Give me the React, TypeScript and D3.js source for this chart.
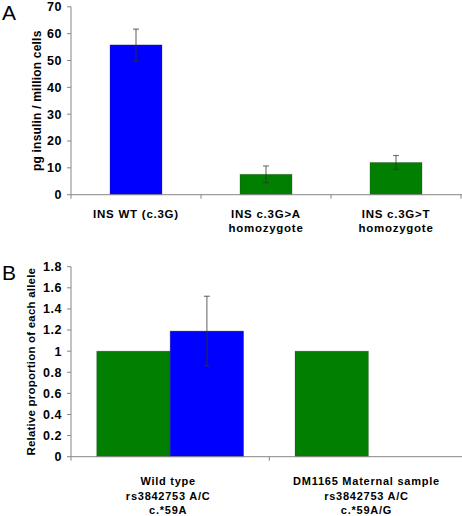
import React from "react";
import * as d3 from "d3";

const catsA = ["INS WT (c.3G)", "INS c.3G>A\nhomozygote", "INS c.3G>T\nhomozygote"];
const valuesA = [55.8, 7.6, 12.0];
const errA = [5.9, 3.1, 2.6];
const colorsA = ["#0000ff", "#007f00", "#007f00"];
const ticksA = [0, 10, 20, 30, 40, 50, 60, 70];

const catsB = ["Wild type\nrs3842753 A/C\nc.*59A", "DM1165 Maternal sample\nrs3842753 A/C\nc.*59A/G"];
const seriesGreenB = [1, 1];
const seriesBlueB = [1.19, 0];
const errBlueB = [0.33, 0];
const ticksB = [0, 0.2, 0.4, 0.6, 0.8, 1, 1.2, 1.4, 1.6, 1.8];

const FONT = "Arial, 'Liberation Sans', sans-serif";
const AXIS = "#868686";

export default function App() {
  const xA = d3.scaleBand<string>().domain(catsA).range([71, 461]).paddingInner(0).paddingOuter(0);
  const yA = d3.scaleLinear().domain([0, 70]).range([194.7, 6.8]);
  const barWA = 52;

  const xB = d3.scaleBand<string>().domain(catsB).range([71, 467.6]);
  const yB = d3.scaleLinear().domain([0, 1.8]).range([456.7, 266.7]);
  const subB = d3.scaleBand<string>().domain(["g", "b"]).range([0, xB.bandwidth()]).paddingInner(0).paddingOuter(0.35);

  const tickLabel = (v: number, y: number, fmt: (n: number) => string) => (
    <g key={v}>
      <line x1={67} x2={71} y1={y} y2={y} stroke={AXIS} />
      <text x={62} y={y} dy="0.35em" textAnchor="end" fontSize={12.5} letterSpacing={0.5} fontWeight="bold" fontFamily={FONT} fill="#000">
        {fmt(v)}
      </text>
    </g>
  );

  const multiline = (label: string, x: number, y0: number, lh: number, fs: number) => (
    <text textAnchor="middle" fontSize={fs} letterSpacing={0.75} fontWeight="bold" fontFamily={FONT} fill="#000">
      {label.split("\n").map((l, i) => (
        <tspan key={i} x={x} y={y0 + i * lh}>
          {l}
        </tspan>
      ))}
    </text>
  );

  const errBar = (cx: number, yTop: number, yBot: number, key: string | number) => (
    <g key={key} stroke="#333" strokeOpacity={0.65}>
      <line x1={cx} x2={cx} y1={yTop} y2={yBot} strokeWidth={1.2} />
      <line x1={cx - 3} x2={cx + 3} y1={yTop} y2={yTop} strokeWidth={1.2} />
      <line x1={cx - 3} x2={cx + 3} y1={yBot} y2={yBot} strokeWidth={1.2} />
    </g>
  );

  return (
    <svg width={462} height={516} style={{ position: "absolute", left: 0, top: 0 }}>
      <rect width={462} height={516} fill="#fff" />
      {/* Panel A */}
      <text x={2} y={20} fontSize={21} fontFamily={FONT} fill="#000">A</text>
      <text
        transform={`translate(37,${(yA(0) + yA(70)) / 2}) rotate(-90)`}
        textAnchor="middle"
        dy="0.35em"
        fontSize={12}
        letterSpacing={0.2}
        fontWeight="bold"
        fontFamily={FONT}
      >
        pg insulin / million cells
      </text>
      {ticksA.map((t) => tickLabel(t, yA(t), (n) => String(n)))}
      {catsA.map((c, i) => {
        const cx = xA(c)! + xA.bandwidth() / 2;
        return (
          <g key={c}>
            <rect x={cx - barWA / 2} y={yA(valuesA[i])} width={barWA} height={yA(0) - yA(valuesA[i])} fill={colorsA[i]} stroke="#2a3a2a" strokeOpacity={0.35} strokeWidth={0.8} />
            {errBar(cx, yA(valuesA[i] + errA[i]), yA(valuesA[i] - errA[i]), "e" + i)}
            {multiline(c, cx, 218, 14, 11.5)}
          </g>
        );
      })}
      <line x1={71} x2={71} y1={yA(70)} y2={yA(0)} stroke={AXIS} />
      <line x1={71} x2={462} y1={yA(0)} y2={yA(0)} stroke={AXIS} />
      {[0, 1, 2, 3].map((i) => {
        const x = 71 + i * xA.bandwidth();
        return <line key={i} x1={x} x2={x} y1={yA(0)} y2={yA(0) + 4} stroke={AXIS} />;
      })}

      {/* Panel B */}
      <text x={2} y={280} fontSize={21} fontFamily={FONT} fill="#000">B</text>
      <text
        transform={`translate(31,${(yB(0) + yB(1.8)) / 2}) rotate(-90)`}
        textAnchor="middle"
        dy="0.35em"
        fontSize={11.5}
        letterSpacing={0.2}
        fontWeight="bold"
        fontFamily={FONT}
      >
        Relative proportion of each allele
      </text>
      {ticksB.map((t) => tickLabel(t, yB(t), (n) => String(Math.round(n * 10) / 10)))}
      {catsB.map((c, i) => {
        const x0 = xB(c)!;
        const gx = x0 + subB("g")!;
        const bx = x0 + subB("b")!;
        const w = subB.bandwidth();
        return (
          <g key={c}>
            <rect x={gx} y={yB(seriesGreenB[i])} width={w} height={yB(0) - yB(seriesGreenB[i])} fill="#007f00" stroke="#2a3a2a" strokeOpacity={0.3} strokeWidth={0.8} />
            {seriesBlueB[i] > 0 && (
              <rect x={bx} y={yB(seriesBlueB[i])} width={w} height={yB(0) - yB(seriesBlueB[i])} fill="#0000ff" stroke="#2a2a3a" strokeOpacity={0.35} strokeWidth={0.8} />
            )}
            {errBlueB[i] > 0 && errBar(bx + w / 2, yB(seriesBlueB[i] + errBlueB[i]), yB(seriesBlueB[i] - errBlueB[i]), "eb" + i)}
            {multiline(c, x0 + xB.bandwidth() / 2 - 2, 485, 14.7, 11)}
          </g>
        );
      })}
      <line x1={71} x2={71} y1={yB(1.8)} y2={yB(0)} stroke={AXIS} />
      <line x1={71} x2={462} y1={yB(0)} y2={yB(0)} stroke={AXIS} />
      {[0, 1].map((i) => {
        const x = 71 + i * xB.bandwidth();
        return <line key={i} x1={x} x2={x} y1={yB(0)} y2={yB(0) + 4} stroke={AXIS} />;
      })}
    </svg>
  );
}
